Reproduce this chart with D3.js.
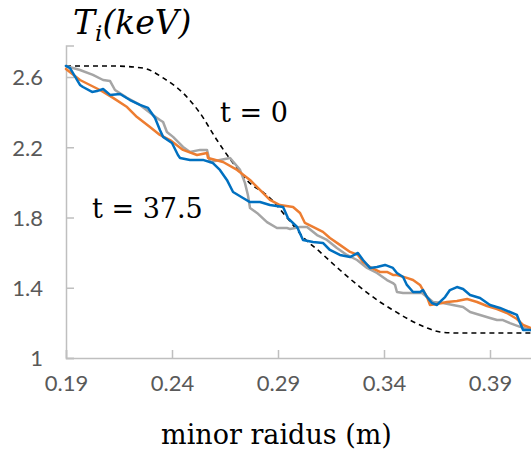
<!DOCTYPE html>
<html><head><meta charset="utf-8">
<script src="https://cdn.jsdelivr.net/npm/d3@7"></script>
<style>html,body{margin:0;padding:0;background:#fff;}svg{display:block;}</style>
</head><body>
<script>
// ---- data ----
const xTicks = [0.19, 0.24, 0.29, 0.34, 0.39];
const yTicks = [1, 1.4, 1.8, 2.2, 2.6];

const initR = [0.1900,0.2108,0.2263,0.2358,0.2461,0.2532,0.2612,0.2688,0.2782,0.2829,0.2876,0.2924,0.2971,0.3018,0.3098,0.3192,0.3287,0.3381,0.3442,0.3523,0.3603,0.3664,0.3758,0.4093];
const initT = [2.663,2.663,2.651,2.595,2.498,2.395,2.241,2.110,1.980,1.945,1.894,1.826,1.757,1.689,1.604,1.501,1.404,1.319,1.273,1.216,1.171,1.148,1.142,1.142];

const grayR = [0.1900,0.1966,0.2027,0.2075,0.2108,0.2131,0.2188,0.2249,0.2310,0.2343,0.2358,0.2376,0.2405,0.2452,0.2485,0.2532,0.2565,0.2579,0.2626,0.2674,0.2721,0.2744,0.2758,0.2768,0.2801,0.2848,0.2895,0.2942,0.2957,0.3004,0.3037,0.3084,0.3131,0.3178,0.3225,0.3273,0.3320,0.3367,0.3414,0.3442,0.3452,0.3461,0.3490,0.3537,0.3579,0.3603,0.3631,0.3678,0.3725,0.3773,0.3806,0.3853,0.3900,0.3933,0.3961,0.3994,0.4042,0.4093];
const grayT = [2.663,2.640,2.612,2.583,2.577,2.526,2.481,2.441,2.384,2.355,2.344,2.287,2.259,2.202,2.173,2.185,2.185,2.116,2.128,2.139,2.071,1.997,1.928,1.854,1.826,1.774,1.740,1.740,1.735,1.746,1.746,1.700,1.672,1.626,1.587,1.558,1.513,1.484,1.444,1.427,1.416,1.376,1.370,1.370,1.370,1.347,1.319,1.313,1.302,1.290,1.262,1.245,1.228,1.216,1.216,1.199,1.177,1.159];

const orangeR = [0.1900,0.1966,0.2060,0.2122,0.2188,0.2235,0.2296,0.2343,0.2391,0.2452,0.2518,0.2565,0.2570,0.2641,0.2707,0.2768,0.2815,0.2862,0.2909,0.2971,0.3004,0.3027,0.3065,0.3112,0.3145,0.3192,0.3240,0.3277,0.3301,0.3334,0.3381,0.3414,0.3442,0.3461,0.3508,0.3537,0.3570,0.3584,0.3603,0.3617,0.3650,0.3697,0.3744,0.3792,0.3839,0.3886,0.3933,0.3980,0.4027,0.4056,0.4093];
const orangeT = [2.646,2.583,2.526,2.481,2.429,2.372,2.315,2.270,2.241,2.185,2.156,2.167,2.139,2.116,2.071,2.014,1.957,1.900,1.871,1.860,1.826,1.769,1.746,1.718,1.683,1.644,1.604,1.587,1.547,1.518,1.490,1.490,1.473,1.473,1.456,1.444,1.416,1.387,1.347,1.302,1.308,1.319,1.325,1.336,1.319,1.296,1.279,1.256,1.222,1.188,1.171];

const blueR = [0.1900,0.1919,0.1966,0.1980,0.2023,0.2046,0.2075,0.2108,0.2155,0.2202,0.2249,0.2287,0.2320,0.2343,0.2358,0.2400,0.2428,0.2438,0.2485,0.2546,0.2593,0.2626,0.2659,0.2688,0.2735,0.2768,0.2815,0.2862,0.2924,0.2947,0.2990,0.3018,0.3065,0.3112,0.3145,0.3192,0.3240,0.3277,0.3301,0.3334,0.3367,0.3405,0.3442,0.3461,0.3490,0.3508,0.3537,0.3570,0.3584,0.3603,0.3626,0.3650,0.3664,0.3688,0.3711,0.3744,0.3773,0.3806,0.3853,0.3900,0.3947,0.3994,0.4027,0.4042,0.4056,0.4093];
const blueT = [2.663,2.651,2.555,2.543,2.515,2.520,2.532,2.498,2.503,2.469,2.441,2.424,2.367,2.298,2.259,2.224,2.156,2.139,2.128,2.128,2.110,2.071,2.014,1.945,1.911,1.888,1.888,1.871,1.860,1.797,1.746,1.672,1.661,1.655,1.615,1.587,1.575,1.598,1.558,1.513,1.518,1.530,1.513,1.484,1.461,1.416,1.376,1.376,1.387,1.347,1.313,1.302,1.319,1.347,1.387,1.404,1.393,1.359,1.342,1.302,1.285,1.262,1.245,1.199,1.159,1.159];

const seriesColors = {gray:"#A5A5A5", orange:"#ED7D31", blue:"#0070C0"};

// ---- chart ----
const W = 531, H = 453;
const svg = d3.select("body").append("svg").attr("width", W).attr("height", H);

const x = d3.scaleLinear().domain([0.19, 0.41]).range([66, 532.4]);
const y = d3.scaleLinear().domain([1, 2.78]).range([358, 45.4]);

const axisColor = "#BFBFBF";
const labelColor = "#595959";
const tickFont = "Lato, 'Open Sans', sans-serif";

// axes
const xAxis = svg.append("g").attr("transform", `translate(0,${y(1)})`)
  .call(d3.axisBottom(x).tickValues(xTicks).tickSize(-8).tickPadding(17).tickFormat(d3.format(".2f")));
const yAxis = svg.append("g").attr("transform", `translate(${x(0.19)},0)`)
  .call(d3.axisLeft(y).tickValues(yTicks).tickSize(-8).tickPadding(23).tickFormat(d => String(d)));
[xAxis, yAxis].forEach(g => {
  g.select(".domain").attr("stroke", axisColor).attr("stroke-width", 1.5);
  g.selectAll(".tick line").attr("stroke", axisColor).attr("stroke-width", 1.5);
  g.selectAll(".tick text").attr("fill", labelColor).style("font-family", tickFont).style("font-size", "22px");
});
xAxis.selectAll(".tick text").attr("dy", "0.71em");
yAxis.selectAll(".tick text").attr("dy", "0.36em");

// lines
const lineLin = d3.line().x(d => x(d[0])).y(d => y(d[1]));
const lineSmooth = d3.line().x(d => x(d[0])).y(d => y(d[1])).curve(d3.curveMonotoneX);
const zip = (a, b) => a.map((v, i) => [v, b[i]]);

svg.append("path").datum(zip(initR, initT)).attr("d", lineSmooth)
  .attr("fill", "none").attr("stroke", "#000").attr("stroke-width", 1.6).attr("stroke-dasharray", "5,4");

[["gray", grayR, grayT], ["orange", orangeR, orangeT], ["blue", blueR, blueT]].forEach(([k, r, t]) => {
  svg.append("path").datum(zip(r, t)).attr("d", lineLin)
    .attr("fill", "none").attr("stroke", seriesColors[k]).attr("stroke-width", 2.5)
    .attr("stroke-linejoin", "round").attr("stroke-linecap", "round");
});

// texts
const serif = "DejaVu Serif";
const title = svg.append("text").attr("x", 73).attr("y", 34)
  .attr("font-family", serif).attr("font-size", 33).attr("font-style", "italic").attr("fill", "#000");
title.append("tspan").text("T");
title.append("tspan").attr("dy", 7).attr("font-size", 23).text("i");
title.append("tspan").attr("dy", -7).text("(keV)");

svg.append("text").attr("x", 220).attr("y", 122)
  .attr("font-family", serif).attr("font-size", 27).attr("fill", "#000").text("t = 0");
svg.append("text").attr("x", 92).attr("y", 218)
  .attr("font-family", serif).attr("font-size", 27).attr("fill", "#000").text("t = 37.5");

svg.append("text").attr("x", 276.5).attr("y", 444).attr("text-anchor", "middle")
  .attr("font-family", serif).attr("font-size", 27).attr("fill", "#000").text("minor raidus (m)");
</script>
</body></html>
